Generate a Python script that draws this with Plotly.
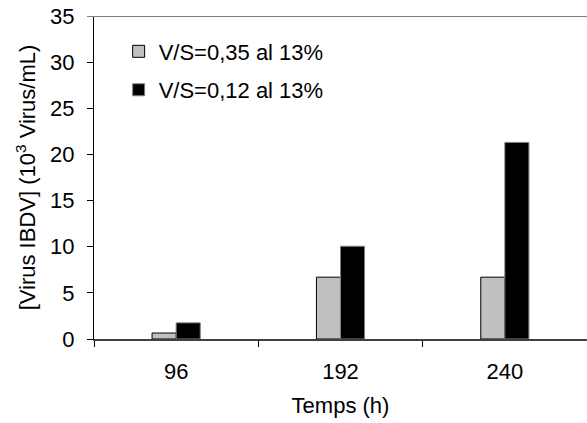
import plotly.graph_objects as go

# Sampling times and virus titres for the two V/S ratios
categories = ["96", "192", "240"]
vs_035 = [0.65, 6.7, 6.7]
vs_012 = [1.75, 10.05, 21.3]
series_names = ["V/S=0,35 al 13%", "V/S=0,12 al 13%"]

FONT = "Liberation Sans, Arial, sans-serif"
SIZE = 22

fig = go.Figure()
fig.add_trace(go.Bar(
    x=categories, y=vs_035, name=series_names[0],
    marker=dict(color="#C0C0C0", line=dict(color="#000000", width=1)),
    legend="legend",
))
fig.add_trace(go.Bar(
    x=categories, y=vs_012, name=series_names[1],
    marker=dict(color="#000000", line=dict(color="#808080", width=1)),
    legend="legend2",
))

legend_style = dict(
    xanchor="left", yanchor="middle", bgcolor="rgba(0,0,0,0)",
    font=dict(family=FONT, size=SIZE, color="#000000"),
    borderwidth=0,
)

fig.update_layout(
    width=587, height=423,
    margin=dict(l=94, r=0, t=16, b=84),
    paper_bgcolor="#FFFFFF", plot_bgcolor="#FFFFFF",
    barmode="group", bargap=0.707, bargroupgap=0,
    font=dict(family=FONT, size=SIZE, color="#000000"),
    showlegend=True,
    legend=dict(x=0.050, y=0.890, **legend_style),
    legend2=dict(x=0.050, y=0.771, **legend_style),
    xaxis=dict(
        type="category", tickson="boundaries", range=[-0.5, 2.5],
        showline=True, linecolor="#404040", linewidth=2,
        ticks="outside", ticklen=6, tickcolor="#000000", tickwidth=1,
        showgrid=False, zeroline=False,
        tickfont=dict(family=FONT, size=SIZE),
        ticklabelstandoff=12,
        title=dict(text="Temps (h)", font=dict(family=FONT, size=SIZE), standoff=14),
    ),
    yaxis=dict(
        range=[0, 35], dtick=5, tick0=0,
        showline=True, linecolor="#000000", linewidth=1,
        ticks="outside", ticklen=6, tickcolor="#000000", tickwidth=1,
        showgrid=False, zeroline=False,
        tickfont=dict(family=FONT, size=SIZE),
        ticklabelstandoff=8,
        title=dict(text="[Virus IBDV] (10<sup>3</sup> Virus/mL)",
                   font=dict(family=FONT, size=SIZE), standoff=8),
    ),
)

# Top border of the plot area, extended over the tick column
fig.add_shape(type="line", xref="paper", yref="y",
              x0=-7 / 493, x1=1, y0=35, y1=35,
              line=dict(color="#808080", width=2))

fig.write_html("out.html")
